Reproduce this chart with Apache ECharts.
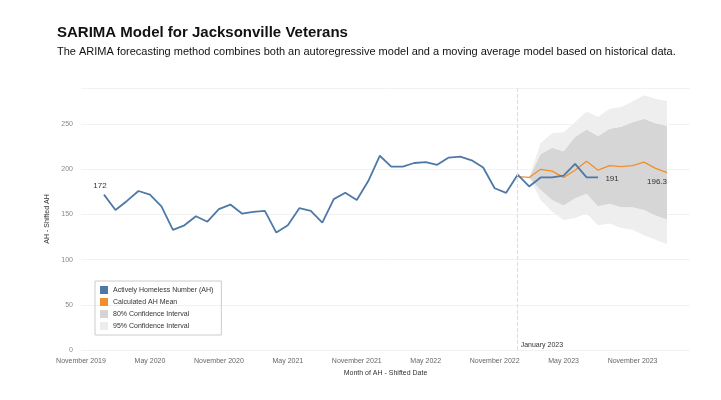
<!DOCTYPE html>
<html><head><meta charset="utf-8">
<script src="https://cdn.jsdelivr.net/npm/echarts@6/dist/echarts.min.js"></script>
<style>html,body{margin:0;padding:0;background:#fff}#c{width:721px;height:400px}</style>
</head><body><div id="c"></div>
<script>
const monthNames=['January','February','March','April','May','June','July','August','September','October','November','December'];
const categories=[];
for(let i=0;i<54;i++){const m=(10+i)%12, y=2019+Math.floor((10+i)/12);categories.push(monthNames[m]+' '+y);}
// actuals from January 2020 (index 2) to August 2023
const actual=[172,155,165,176,172,159,133,138,148,142,156,161,151,153,154,130,138,157,154,141,167,174,166,187,215,203,203,207,208,205,213,214,210,202,179,174,194,181,191,191,193,206,191,191];
// forecast from January 2023 (index 38) to February 2024
const mean=[192,191,200,198,191,199,209,199,204,203,204,208,201,196.3];
const up80=[192,191,217,224,220,236,244,237,245,247,252,256,251,248.1];
const lo80=[192,191,177,166,160,168,173,159,162,158,158,155,149,144.5];
const up95=[192,191,229,240,241,252,264,258,267,269,275,282,278,275.6];
const lo95=[192,191,166,153,144,146,151,138,140,135,133,127,122,117.0];
const yTicks=[0,50,100,150,200,250];

const aStart=2, fStart=38;
function place(arr,start){const d=new Array(categories.length).fill(null);arr.forEach((v,i)=>d[start+i]=v);return d;}
const blue=place(actual,aStart);
const lastA=aStart+actual.length-1, lastF=fStart+mean.length-1;
const endLab=(c)=>({show:true,position:'bottom',offset:[-10,0],color:'#333',fontSize:8,formatter:(p)=>p.dataIndex===lastF?c:''});
const fmt1=v=>v.toFixed(1);
const labSeries=(name,arr)=>({name:name,type:'line',data:place(arr,fStart),symbol:'circle',symbolSize:0.1,showSymbol:true,itemStyle:{opacity:0},lineStyle:{opacity:0},label:endLab(fmt1(arr[arr.length-1])),z:5});
const chart=echarts.init(document.getElementById('c'));
chart.setOption({
 animation:false,
 title:[{text:'SARIMA Model for Jacksonville Veterans',left:52,top:20,textStyle:{fontSize:15,fontWeight:'bold',color:'#111',fontFamily:'Liberation Sans'}},
        {text:'The ARIMA forecasting method combines both an autoregressive model and a moving average model based on historical data.',left:52,top:41,textStyle:{fontSize:11,fontWeight:'normal',color:'#111',fontFamily:'Liberation Sans'}}],
 grid:{left:81,right:31,top:88,bottom:50},
 xAxis:{type:'category',data:categories,boundaryGap:false,name:'Month of AH - Shifted Date',nameLocation:'middle',nameGap:20,
   nameTextStyle:{fontSize:7,color:'#333'},axisLine:{show:false},axisTick:{show:false},
   axisLabel:{interval:0,fontSize:7,color:'#666',formatter:(v)=>/^(November|May)/.test(v)?v:''}},
 yAxis:{type:'value',min:0,max:290,interval:50,name:'AH - Shifted AH',nameLocation:'middle',nameGap:24,nameTextStyle:{fontSize:7,color:'#333'},
   axisLabel:{fontSize:7,color:'#888',showMaxLabel:false},splitLine:{lineStyle:{color:'#f2f2f2'}},axisLine:{show:false},axisTick:{show:false}},
 legend:{orient:'vertical',left:95,top:281,itemWidth:8,itemHeight:8,itemGap:4,padding:[5,8,5,5],borderColor:'#ccc',borderWidth:1,
   textStyle:{fontSize:7,color:'#333'},
   data:[{name:'Actively Homeless Number (AH)',icon:'rect'},{name:'Calculated AH Mean',icon:'rect'},{name:'80% Confidence Interval',icon:'rect'},{name:'95% Confidence Interval',icon:'rect'}]},
 series:[
  {name:'base',type:'line',stack:'b',data:place(lo95,fStart),symbol:'none',lineStyle:{opacity:0},silent:true},
  {name:'95% Confidence Interval',type:'line',stack:'b',data:place(lo80.map((v,i)=>v-lo95[i]),fStart),symbol:'none',lineStyle:{opacity:0},areaStyle:{color:'#eeeeee',opacity:1},itemStyle:{color:'#ececec'}},
  {name:'80% Confidence Interval',type:'line',stack:'b',data:place(up80.map((v,i)=>v-lo80[i]),fStart),symbol:'none',lineStyle:{opacity:0},areaStyle:{color:'#d6d6d6',opacity:1},itemStyle:{color:'#d5d5d5'}},
  {name:'95top',type:'line',stack:'b',data:place(up95.map((v,i)=>v-up80[i]),fStart),symbol:'none',lineStyle:{opacity:0},areaStyle:{color:'#eeeeee',opacity:1}},
  labSeries('lab95',up95),labSeries('lab80',up80),labSeries('lab80l',lo80),labSeries('lab95l',lo95),
  {name:'Calculated AH Mean',type:'line',data:place(mean,fStart),symbol:'circle',symbolSize:0.1,lineStyle:{color:'#f28e2b',width:1.3},itemStyle:{color:'#f28e2b'},label:endLab(fmt1(mean[mean.length-1]))},
  {name:'Actively Homeless Number (AH)',type:'line',data:blue,symbol:'circle',symbolSize:0.1,lineStyle:{color:'#4e79a7',width:1.8},itemStyle:{color:'#4e79a7'},
   label:{show:true,fontSize:8,color:'#333',formatter:(p)=>p.dataIndex===aStart?String(actual[0]):(p.dataIndex===lastA?String(actual[actual.length-1]):''),position:'top'},
   labelLayout:(p)=>p.dataIndex===lastA?{dx:14,dy:10}:(p.dataIndex===aStart?{dx:-4}:{}),
   markLine:{silent:true,symbol:'none',lineStyle:{type:'dashed',color:'#ddd',width:1},label:{show:false},data:[{xAxis:'January 2023'}]},
   markPoint:{symbol:'circle',symbolSize:0,data:[{coord:['January 2023',0]}],label:{show:true,formatter:'January 2023',position:'right',offset:[-2,-5],fontSize:7,color:'#333'}}}
 ]
});
</script></body></html>
